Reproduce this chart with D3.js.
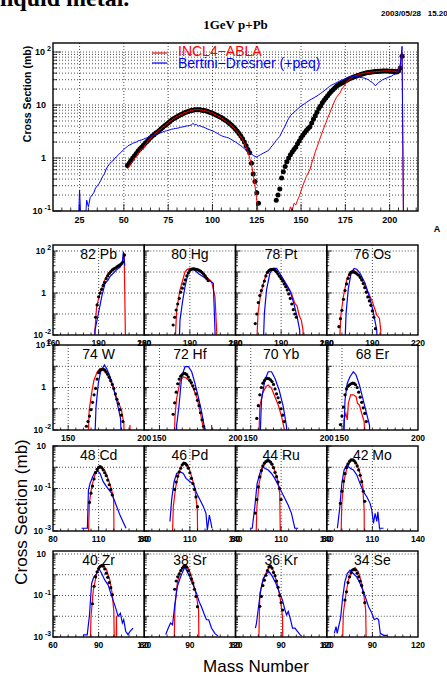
<!DOCTYPE html>
<html>
<head>
<meta charset="utf-8">
<script src="https://cdn.jsdelivr.net/npm/d3@7"></script>
<style>
body { margin: 0; background: #fff; }
svg { display: block; font-family: "Liberation Sans", Arial, sans-serif; }
</style>
</head>
<body>
<svg id="chart" width="447" height="677"></svg>
<script>
// ---- top panel: mass yield, 1 GeV p+Pb ----
// experiment: consecutive mass numbers starting at the given A
const topExpLeftFirst = 52;
const topExpLeft = [0.72,0.80,0.90,1.00,1.10,1.22,1.35,1.48,1.60,1.75,
  1.90,2.05,2.2,2.4,2.6,2.75,2.95,3.1,3.3,3.55,
  3.8,4.05,4.3,4.6,4.9,5.2,5.5,5.75,6.0,6.3,
  6.55,6.8,7.05,7.3,7.5,7.7,7.85,8.0,8.1,8.15,
  8.15,8.1,8.0,7.9,7.8,7.6,7.4,7.2,7.0,6.8,
  6.5,6.3,6.0,5.8,5.5,5.2,5.0,4.7,4.4,4.1,
  3.8,3.5,3.2,2.9,2.6,2.3,2.0,1.7,1.45,1.25,
  0.8,0.5,0.36,0.22,0.14];
const topExpRightFirst = 136;
const topExpRight = [0.16,0.2,0.26,0.42,0.55,0.69,0.85,1.0,1.15,1.3,
  1.45,1.6,1.85,2.1,2.4,2.7,3.0,3.3,3.6,3.9,
  4.6,5.4,6.3,7.3,8.6,9.6,11,12.3,13.6,15,
  16.5,18,19.5,21,22.5,23.8,25,26,27,28.5,
  29.8,31,32,33,34,35,36,37,38,39,
  39.8,40.5,41,41.5,42,42.5,43,43,43.5,43.5,
  44,44,44,44,43.5,43.5,43,43,42,44,
  50,83];
// INCL4-ABLA
const topRedLeftFirst = 52;
const topRedLeft = [0.62,0.7,0.8,0.85,1.0,1.05,1.25,1.3,1.5,1.45,
  1.8,1.9,2.2,2.3,2.6,2.7,3.0,3.1,3.4,3.5,
  3.9,4.0,4.4,4.5,5.0,5.1,5.6,5.7,6.1,6.2,
  6.7,6.7,7.2,7.2,7.6,7.6,8.0,7.9,8.3,8.1,
  8.3,8.0,8.1,7.8,7.9,7.5,7.5,7.1,7.1,6.6,
  6.6,6.1,6.1,5.6,5.5,5.1,4.9,4.6,4.3,4.0,
  3.7,3.4,3.1,2.8,2.5,2.2,1.9,1.6,1.3,1.0,
  0.75,0.5,0.3,0.16,0.08,0.03];
const topRedRightFirst = 142;
const topRedRight = [0.05,0.09,0.12,0.1,0.14,0.13,0.16,0.19,0.24,0.3,
  0.37,0.45,0.52,0.6,0.8,1.0,1.3,1.6,2.0,2.5,
  3.1,3.8,4.6,5.7,6.8,8.3,10,12,14,15.5,
  17,20,22,25,28,30,32,33.5,35,36,
  37,38,38.5,39.5,40,40.5,41,41.5,42,42,
  42.5,43,43,43.5,43.5,44,44,44,44,44,
  43.5,43.5,42,45,60,100,0.01];
// Bertini-Dresner (+peq)
const topBlueFirst = 24;
const topBlue = [0.03,0.25,0.04,0.03,0.05,0.16,0.12,0.18,0.2,0.22,
  0.27,0.3,0.33,0.38,0.45,0.5,0.62,0.7,0.78,0.85,
  0.9,1.0,1.07,1.15,1.25,1.35,1.45,1.55,1.65,1.75,
  1.8,1.9,1.95,2.0,2.1,2.15,2.2,2.25,2.35,2.4,
  2.5,2.55,2.65,2.7,2.8,2.9,2.95,3.0,3.1,3.2,
  3.25,3.35,3.4,3.5,3.55,3.6,3.65,3.7,3.8,3.85,
  3.9,4.0,4.05,4.1,4.2,4.5,4.2,4.3,4.0,4.1,
  3.9,3.8,3.7,3.55,3.45,3.35,3.25,3.15,3.0,2.9,
  2.75,2.65,2.55,2.5,2.45,2.4,2.3,2.2,2.1,2.0,
  1.9,1.8,1.7,1.6,1.5,1.43,1.35,1.28,1.2,1.12,
  1.07,1.05,1.1,1.15,1.2,1.25,1.3,1.35,1.43,1.6,
  1.75,1.95,2.15,2.35,2.56,3.0,3.5,4.0,4.8,5.6,
  6.3,6.8,7.3,7.8,8.4,9.0,9.6,10.1,10.6,11.2,
  11.8,12.4,13,13.6,14.2,14.8,15.6,16.5,17.5,18.5,
  19.7,21,22.4,23.5,24.5,25.5,26.5,27.5,28.5,29.5,
  30.5,31.5,32.5,33.5,34,34.5,35,34.9,34,33.5,
  33,32.5,32,31,30,28,27,25,23,25,
  27,28,30,31,32,33,34,35,37,38,
  40,43,55,128,0.01];
const topXTicks = [25,50,75,100,125,150,175,200];
const topYExps = [2,1,0,-1];

// ---- isotope panels: experiment [first A, values], models [[A, mb], ...] ----
const expPb = [188, [0.07,0.27,0.66,1.0,1.5,2.3,3.2,4.8,6.5,8.5,10.5,12.5,14,15.5,17.5,19.5,22,25,30,64]];
const redPb = [[185.5,1e-4],[188.6,0.19],[190,0.55],[191,1],[192,1.6],[193.5,3.5],[195,5.8],[196.3,8.7],[198,10.8],[199.6,12.6],[201,14.5],[203,17],[205,23],[206,40],[206.8,78],[208,1e-4]];
const bluePb = [[187.3,1e-4],[187.6,0.017],[189.8,0.1],[192,0.66],[194.2,2.9],[196.3,4.2],[197.4,6],[199.6,8.7],[201.8,12.6],[204,16.6],[205.5,25],[206.3,93],[207.2,20]];

const expHg = [179, [0.03,0.07,0.155,0.3,0.55,1.1,1.7,2.7,4.2,6.5,9,12,13.5,14,14,13.5,13,12,11,9.5,8,6.5,5,3.9]];
const redHg = [[179.3,1e-4],[181.3,0.155],[183.5,1.4],[186.8,10.2],[188,13],[190,15],[192,14.5],[194.3,12.6],[197,10],[199.9,7.2],[202,5],[204.3,3.5],[206.5,0.66],[207.6,0.017],[208,1e-4]];
const blueHg = [[182.2,1e-4],[183.5,0.05],[185,0.32],[186.8,2],[188.9,8.7],[190,12],[191.1,14.8],[192.5,13],[194.3,10.2],[196,8],[198.8,6],[202,4.2],[205.4,2.9],[206.5,0.017],[207,1e-4]];

const expPt = [173, [0.035,0.1,0.35,0.75,1.3,2.2,3.7,6.5,9.5,11.8,13,13.5,13.2,12,10.2,8,6.2,4.8,3.7,2.7,2.0,1.4,0.9,0.55,0.3,0.16,0.1,0.07]];
const redPt = [[173,1e-4],[174.8,0.107],[176.3,0.66],[178,2.4],[180.4,8.7],[182.6,13.5],[184.8,13.5],[188.1,7.2],[191.3,4.2],[194.6,1.66],[196.8,0.98],[199,0.32],[200.5,0.24],[201.8,0.089],[203.3,0.05],[204.4,0.017],[204.8,1e-4]];
const bluePt = [[177.5,1e-4],[179,0.107],[180.4,1.4],[182.6,8.7],[184.8,14.8],[187,14.8],[189.1,8.7],[192.4,3.5],[195.7,1.4],[198.3,0.32],[200.5,0.074],[202.2,0.017],[202.8,1e-4]];

const expOs = [168, [0.025,0.06,0.15,0.5,1.3,2.7,5,7.5,9.5,10.2,9.8,9,8,7,5.5,4.2,2.8,1.8,1.1,0.65,0.42,0.26,0.14,0.07,0.02]];
const redOs = [[167.4,1e-4],[169.2,0.074],[170.9,0.66],[173.1,4.2],[175.3,10.2],[177.5,12.6],[180.8,7.2],[184.1,2.9],[187.4,0.98],[189.6,0.47],[191.1,0.22],[192.9,0.089],[194.6,0.063],[195.5,0.017],[195.8,1e-4]];
const blueOs = [[171.2,1e-4],[172.7,0.107],[174.2,1.66],[176,8.7],[178,14.8],[179.7,13.5],[181.9,8.7],[185.2,2.9],[188.1,0.66],[190.3,0.155],[191.8,0.043],[192.9,0.017],[193.2,1e-4]];

const expW = [162, [0.015,0.025,0.045,0.09,0.2,0.45,0.9,2.5,5,6.5,7.2,7.2,6.7,5.5,4.2,3,2.1,1.4,0.9,0.5,0.28,0.17,0.09,0.05,0.025]];
const redW = [[162.3,1e-4],[163.8,0.087],[165.4,0.54],[166.9,2.2],[169.1,5.5],[170.9,7.9],[173,6.8],[175.7,3.9],[178.5,1.6],[180.7,0.54],[182.9,0.21],[185,0.087],[186.6,0.02],[187.2,1e-4],[190,1e-4],[190.6,0.017],[191.2,1e-4]];
const blueW = [[166.7,1e-4],[168.3,0.126],[169.8,1.6],[171.3,5.5],[173.8,11.5],[175.3,7.9],[177.5,3.2],[179.6,1.1],[182.3,0.18],[184.4,0.035],[185.7,1e-4]];

const expHf = [159, [0.055,0.19,0.6,1.5,2.5,3.4,4.1,4.6,4.5,4.0,3.1,2.2,1.7,1.2,0.85,0.5,0.25,0.14,0.065,0.03,0.015]];
const redHf = [[159.3,1e-4],[160.2,0.043],[161.3,0.31],[163.5,1.86],[165.7,3.2],[167.9,2.7],[170,1.86],[172.2,0.91],[174.8,0.31],[177,0.06],[178.8,0.012],[179.2,1e-4],[183.8,1e-4],[184.3,0.017],[184.8,1e-4]];
const blueHf = [[160.8,1e-4],[161.3,0.017],[162.8,0.126],[164.6,3.2],[166.8,9.5],[169,9.5],[171.2,5.5],[173.3,1.6],[175.5,0.37],[177.7,0.072],[179.9,0.01],[180.2,1e-4]];

const expYb = [154, [0.035,0.14,0.45,1.0,1.6,2.1,2.6,2.7,2.6,2.3,1.9,1.4,0.85,0.5,0.33,0.2,0.1,0.05,0.025]];
const redYb = [[154.7,1e-4],[156,0.126],[157.8,0.54],[160,1.1],[161.5,1.3],[163.7,0.91],[165.9,0.37],[168.1,0.15],[170.3,0.043],[172.5,0.008],[172.8,1e-4]];
const blueYb = [[155.3,1e-4],[157.1,0.26],[159.3,2.2],[161.5,5.5],[163.7,5.5],[165.9,2.7],[168.7,0.76],[171.4,0.126],[173.6,0.014],[174,1e-4]];

const expEr = [149, [0.018,0.045,0.12,0.45,0.85,1.15,1.35,1.5,1.6,1.55,1.35,1.0,0.6,0.35,0.2,0.11,0.06,0.025]];
const redEr = [[149.5,1e-4],[151.3,0.03],[152.6,0.06],[153.5,0.03],[154.2,0.18],[155.7,0.45],[157.5,0.45],[159.3,0.37],[160.2,0.18],[161.5,0.15],[163,0.06],[164.6,0.025],[165.5,1e-4]];
const blueEr = [[150.6,1e-4],[152,0.26],[153.5,1.6],[155.3,3.2],[157.5,5.5],[159.3,3.9],[161.5,1.3],[163.7,0.31],[165.9,0.072],[168.1,0.017],[168.8,1e-4]];

const expCd = [104, [0.022,0.06,0.13,0.28,0.55,0.8,0.98,1.07,0.95,0.75,0.55,0.4,0.25,0.15,0.09,0.05]];
const redCd = [[102.6,1e-5],[103.9,0.02],[105.4,0.12],[107.6,0.44],[109.8,0.89],[111.9,1.07],[114.1,0.69],[116.9,0.21],[119.1,0.059],[119.9,0.028],[120.3,1e-5]];
const blueCd = [[98.8,0.00135],[102.6,0.00135],[103.3,0.085],[104.3,0.17],[106.1,0.36],[107.6,0.63],[109.8,0.63],[110.9,0.52],[113,0.21],[115.3,0.12],[118.6,0.059],[120.7,0.024],[124,0.0056],[128,0.00135]];

const expPd = [100, [0.09,0.2,0.38,0.6,0.9,1.3,1.55,1.5,1.25,0.9,0.55,0.3,0.17,0.09,0.04,0.014]];
const redPd = [[97.8,1e-5],[99.1,0.014],[100.7,0.12],[102.4,0.44],[104.6,1.29],[106.8,1.66],[109,1.07],[111.2,0.36],[113.4,0.085],[114.9,0.0098],[115.4,1e-5]];
const bluePd = [[96.9,0.0028],[98,0.029],[99.6,0.21],[101.3,0.51],[103.5,0.62],[105.7,0.51],[107.5,0.3],[110.1,0.21],[112.3,0.17],[114.5,0.059],[116.7,0.029],[118.9,0.014],[120.6,0.0068],[121.5,0.0011],[122.8,0.0056],[123.7,0.0028],[124.5,0.00135]];

const expRu = [93, [0.007,0.03,0.12,0.35,0.7,1.15,1.55,1.85,2.0,2.0,1.75,1.4,0.95,0.58,0.36,0.2,0.1,0.03]];
const redRu = [[92.8,1e-5],[94.1,0.014],[95.5,0.17],[97.7,0.89],[100.4,2.2],[102.6,2.04],[105.2,0.89],[107.4,0.3],[109.1,0.059],[109.8,1e-5]];
const blueRu = [[89.4,0.00135],[91,0.00135],[92.7,0.014],[94.2,0.17],[96,0.51],[97.7,1.07],[99.2,0.89],[101.5,0.74],[103.7,0.51],[105.8,0.3],[108.7,0.12],[111.3,0.049],[114.6,0.0166],[116.8,0.0068],[119,0.00135],[121.2,0.00135]];

const expMo = [89, [0.02,0.075,0.22,0.5,0.95,1.45,1.9,2.2,2.2,2.0,1.6,1.15,0.75,0.42,0.21,0.075,0.025]];
const redMo = [[88.8,1e-5],[89.9,0.02],[91.4,0.25],[93.2,0.89],[95.8,2.2],[97.5,2.4],[99.7,1.55],[101.9,0.51],[103.7,0.12],[104.6,0.0098],[104.8,1e-5]];
const blueMo = [[87,0.00135],[88.4,0.0098],[89.9,0.17],[91.4,0.74],[93.2,1.29],[95.4,0.89],[97.5,0.74],[99.7,0.44],[101.9,0.17],[104.1,0.071],[106.3,0.041],[108.5,0.02],[109.6,0.0098],[110.7,0.0023],[111.8,0.0068],[112.9,0.0028],[113.6,0.0081],[114.7,0.00135],[117.3,0.00135]];

const expZr = [86, [0.04,0.28,0.8,1.4,2.0,2.5,2.8,2.6,1.9,1.2,0.75,0.42,0.24,0.11]];
const redZr = [[83.9,1e-5],[85,0.0098],[86.5,0.18],[88.7,1.15],[90.9,2.8],[93,3.1],[95.2,1.8],[97.4,0.55],[98.9,0.126],[100,0.017],[100.6,1e-5],[101.3,1e-5],[101.7,0.01],[102.1,1e-5]];
const blueZr = [[79.9,0.00126],[82.5,0.00126],[83.9,0.0098],[85.4,0.38],[86.9,0.79],[88.7,1.15],[90.2,2.0],[92,1.15],[94.1,0.55],[96.3,0.32],[98,0.126],[99.5,0.06],[101.3,0.024],[102.8,0.0098],[104.3,0.014],[105.6,0.0047],[106.5,0.0068],[107.8,0.0019],[109.3,0.0013],[110.8,0.0019],[112.6,0.0027]];

const expSr = [80, [0.2,0.5,0.8,1.1,1.6,2.1,2.5,2.55,2.3,1.6,1.0,0.62,0.4,0.2,0.09,0.029]];
const redSr = [[79.1,1e-5],[80.2,0.029],[81.7,0.38],[83.5,1.38],[85.7,2.8],[87.5,3.1],[89.6,1.66],[91.8,0.55],[94.4,0.087],[95.7,0.02],[96.2,1e-5]];
const blueSr = [[74.1,0.0013],[75.8,0.0027],[77.3,0.0047],[78.6,0.0039],[80.2,0.042],[81.7,0.26],[83.5,0.66],[85.2,1.38],[86.8,2.4],[88.3,1.38],[90,0.79],[92.2,0.32],[94.4,0.126],[96.1,0.05],[97.6,0.029],[99.2,0.014],[100.9,0.0068],[102.4,0.0068],[104.2,0.0027],[106.4,0.0015],[108.5,0.0011]];

const expKr = [76, [0.03,0.09,0.3,0.55,0.95,1.6,2.4,2.6,2.1,1.3,0.9,0.5,0.25,0.1,0.045,0.02]];
const redKr = [[74.8,1e-5],[76,0.126],[78.2,0.55],[80.4,1.38],[82.6,2.8],[84.8,1.66],[87.4,0.38],[89.6,0.06],[90.9,0.0098],[91.3,1e-5]];
const blueKr = [[73.1,0.0027],[73.8,0.0047],[75.3,0.035],[76.6,0.18],[78.2,0.66],[80.4,1.15],[82.2,1.38],[84.4,0.79],[86.6,0.38],[88.7,0.15],[90.9,0.06],[92.5,0.02],[93.6,0.0117],[94.7,0.017],[96.2,0.0068],[97.5,0.0027],[99.1,0.0027],[100.6,0.0019],[102.4,0.0013],[103.5,0.0011]];

const expSe = [72, [0.06,0.15,0.42,0.8,1.25,1.7,1.85,1.7,1.2,0.8,0.5,0.3,0.14,0.045]];
const redSe = [[69.8,1e-5],[70.9,0.014],[72.7,0.126],[74.2,0.55],[76.4,1.66],[78.6,2.24],[80.8,1.38],[83,0.38],[84.5,0.087],[85.6,0.02],[86.3,1e-5]];
const blueSe = [[65,0.0015],[66.1,0.0032],[66.9,0.0015],[67.8,0.0032],[69.1,0.0081],[70.4,0.072],[71.9,0.46],[73.5,1.15],[75.3,1.66],[77.5,1.15],[79.7,0.79],[81.9,0.38],[83.7,0.18],[85.3,0.087],[87.5,0.029],[89.7,0.014],[91.2,0.0068],[93,0.0081],[94.1,0.0068],[95.2,0.0015],[97.4,0.0012],[99.6,0.0012]];

const panelLabels = ["82 Pb","80 Hg","78 Pt","76 Os","74 W","72 Hf","70 Yb","68 Er",
                     "48 Cd","46 Pd","44 Ru","42 Mo","40 Zr","38 Sr","36 Kr","34 Se"];
const panelExp  = [expPb,expHg,expPt,expOs,expW,expHf,expYb,expEr,expCd,expPd,expRu,expMo,expZr,expSr,expKr,expSe];
const panelRed  = [redPb,redHg,redPt,redOs,redW,redHf,redYb,redEr,redCd,redPd,redRu,redMo,redZr,redSr,redKr,redSe];
const panelBlue = [bluePb,blueHg,bluePt,blueOs,blueW,blueHf,blueYb,blueEr,blueCd,bluePd,blueRu,blueMo,blueZr,blueSr,blueKr,blueSe];

// axis ranges per row of small panels
const rowXDomain = [[160,220],[140,200],[80,140],[60,120]];
const rowXTicks  = [[160,190,220],[150,200],[80,110,140],[60,90,120]];
const rowXGrid   = [[190],[150],[110],[90]];
const rowYDomain = [[0.01,193],[0.01,100],[0.001,10],[0.001,14]];
const rowYExps   = [[2,0,-2],[2,0,-2],[1,-1,-3],[1,-1,-3]];

// layout
const colX = [53, 144.25, 235.5, 326.75, 418];
const rowTop = [245, 345, 446, 551];
const rowBottom = [335, 430, 531, 637];

const svg = d3.select("#chart");
const defs = svg.append("defs");
const RED = "#ff0000", BLUE = "#0000ff";

function series(first, vals) { return vals.map((v, i) => [first + i, v]); }

function yLabel(g, x, y, e, size) {
  const t = g.append("text")
    .attr("y", y).attr("dy", "0.35em")
    .attr("text-anchor", "end")
    .attr("font-weight", "bold")
    .attr("font-size", size);
  if (e === 0) t.attr("x", x - 5).text("1");
  else if (e === 1) t.attr("x", x - 5).text("10");
  else {
    t.attr("x", x).text("10");
    t.append("tspan").attr("dx", 2).attr("dy", -size * 0.45)
      .attr("font-size", size * 0.8).text(e);
  }
}

function logTicks(g, ys, x0, lo, hi, major, minor) {
  for (let e = -6; e <= 3; e++) {
    for (let k = 1; k <= 9; k++) {
      const v = k * Math.pow(10, e);
      if (v < lo * 0.999 || v > hi * 1.001) continue;
      g.append("line")
        .attr("x1", x0).attr("x2", x0 + (k === 1 ? major : minor))
        .attr("y1", ys(v)).attr("y2", ys(v))
        .attr("stroke", "#000").attr("stroke-width", 0.8);
    }
  }
}

function dotted(g, x1, y1, x2, y2) {
  g.append("line").attr("x1", x1).attr("y1", y1).attr("x2", x2).attr("y2", y2)
    .attr("stroke", "#000").attr("stroke-width", 0.7).attr("stroke-dasharray", "1,2");
}

// ---------- header texts ----------
svg.append("text").attr("x", 0).attr("y", 6)
  .attr("font-family", "'Liberation Serif', 'Times New Roman', serif")
  .attr("font-weight", "bold").attr("font-size", 24)
  .text("liquid metal.");

svg.append("text").attr("x", 381).attr("y", 16)
  .attr("font-weight", "bold").attr("font-size", 8)
  .attr("xml:space", "preserve")
  .text("2003/05/28   15.20");

svg.append("text").attr("x", 235.5).attr("y", 29)
  .attr("text-anchor", "middle")
  .attr("font-family", "'Liberation Serif', 'Times New Roman', serif")
  .attr("font-weight", "bold").attr("font-size", 13)
  .text("1GeV p+Pb");

// ---------- top panel ----------
const tx = d3.scaleLinear().domain([10, 216]).range([53, 418]);
const ty = d3.scaleLog().domain([0.1, 148]).range([211, 43]);
const topG = svg.append("g");

defs.append("clipPath").attr("id", "clipTop")
  .append("rect").attr("x", 53).attr("y", 43).attr("width", 365).attr("height", 168);

// grid
for (let e = -1; e <= 2; e++) {
  for (let k = 1; k <= 9; k++) {
    const v = k * Math.pow(10, e);
    if (v <= 0.1 || v >= 148) continue;
    dotted(topG, 53, ty(v), 418, ty(v));
  }
}
topXTicks.forEach(a => dotted(topG, tx(a), 43, tx(a), 211));

const topPlot = topG.append("g").attr("clip-path", "url(#clipTop)");
const tline = d3.line().x(d => tx(d[0])).y(d => ty(d[1]));

topPlot.selectAll("circle")
  .data(series(topExpLeftFirst, topExpLeft).concat(series(topExpRightFirst, topExpRight)))
  .enter().append("circle")
    .attr("cx", d => tx(d[0])).attr("cy", d => ty(d[1])).attr("r", 2.5)
    .attr("fill", "#000");

[series(topRedLeftFirst, topRedLeft), series(topRedRightFirst, topRedRight)].forEach(s => {
  topPlot.append("path").datum(s).attr("d", tline)
    .attr("fill", "none").attr("stroke", RED).attr("stroke-width", 1);
});
topPlot.append("path").datum(series(topBlueFirst, topBlue)).attr("d", tline)
  .attr("fill", "none").attr("stroke", BLUE).attr("stroke-width", 1);

// ticks
logTicks(topG, ty, 53, 0.1, 148, 8, 4);
for (let a = 15; a <= 215; a += 5) {
  topG.append("line").attr("x1", tx(a)).attr("x2", tx(a))
    .attr("y1", 211).attr("y2", 211 - (a % 25 === 0 ? 7 : 3.5))
    .attr("stroke", "#000").attr("stroke-width", 0.8);
}
topG.append("rect").attr("x", 53).attr("y", 43).attr("width", 365).attr("height", 168)
  .attr("fill", "none").attr("stroke", "#000").attr("stroke-width", 1.4);

topXTicks.forEach(a => {
  topG.append("text").attr("x", tx(a)).attr("y", 223)
    .attr("text-anchor", "middle").attr("font-weight", "bold").attr("font-size", 9)
    .text(a);
});
topYExps.forEach(e => yLabel(topG, 51, ty(Math.pow(10, e)), e, 9));
topG.append("text").attr("x", 437).attr("y", 232)
  .attr("text-anchor", "middle").attr("font-weight", "bold").attr("font-size", 9).text("A");
topG.append("text")
  .attr("transform", "translate(31,94) rotate(-90)")
  .attr("text-anchor", "middle").attr("font-weight", "bold").attr("font-size", 10.5)
  .text("Cross Section (mb)");

// legend
topG.append("line").attr("x1", 152).attr("x2", 167).attr("y1", 53).attr("y2", 53)
  .attr("stroke", RED).attr("stroke-width", 1.2);
topG.append("text").attr("x", 178).attr("y", 55.5).attr("font-size", 14)
  .attr("fill", RED).text("INCL4\u2212ABLA");
topG.append("line").attr("x1", 152).attr("x2", 167).attr("y1", 63).attr("y2", 63)
  .attr("stroke", BLUE).attr("stroke-width", 1.2);
topG.append("text").attr("x", 178).attr("y", 67.5).attr("font-size", 14)
  .attr("fill", BLUE).text("Bertini\u2212Dresner (+peq)");

// ---------- isotope panels ----------
panelLabels.forEach((label, i) => {
  const r = Math.floor(i / 4), c = i % 4;
  const x0 = colX[c], x1 = colX[c + 1], y0 = rowTop[r], y1 = rowBottom[r];
  const xs = d3.scaleLinear().domain(rowXDomain[r]).range([x0, x1]);
  const ys = d3.scaleLog().domain(rowYDomain[r]).range([y1, y0]);
  const g = svg.append("g");
  const id = "clipP" + i;
  defs.append("clipPath").attr("id", id)
    .append("rect").attr("x", x0).attr("y", y0).attr("width", x1 - x0).attr("height", y1 - y0);

  // grid
  const [lo, hi] = rowYDomain[r];
  for (let e = -4; e <= 3; e++) {
    const v = Math.pow(10, e);
    if (v <= lo * 1.001 || v >= hi * 0.999) continue;
    dotted(g, x0, ys(v), x1, ys(v));
  }
  rowXGrid[r].forEach(a => dotted(g, xs(a), y0, xs(a), y1));

  const plot = g.append("g").attr("clip-path", "url(#" + id + ")");
  const line = d3.line().x(d => xs(d[0])).y(d => ys(d[1]));
  plot.append("path").datum(panelRed[i]).attr("d", line)
    .attr("fill", "none").attr("stroke", RED).attr("stroke-width", 1.2);
  plot.append("path").datum(panelBlue[i]).attr("d", line)
    .attr("fill", "none").attr("stroke", BLUE).attr("stroke-width", 1.2);
  const ex = panelExp[i];
  plot.selectAll("circle").data(series(ex[0], ex[1])).enter().append("circle")
    .attr("cx", d => xs(d[0])).attr("cy", d => ys(d[1])).attr("r", 1.6)
    .attr("fill", "#000");

  // ticks
  logTicks(g, ys, x0, lo, hi, 5, 2.5);
  const [a0, a1] = rowXDomain[r];
  for (let a = a0 + 5; a < a1; a += 5) {
    g.append("line").attr("x1", xs(a)).attr("x2", xs(a))
      .attr("y1", y1).attr("y2", y1 - (rowXTicks[r].includes(a) ? 5 : 2.5))
      .attr("stroke", "#000").attr("stroke-width", 0.8);
  }
  g.append("rect").attr("x", x0).attr("y", y0).attr("width", x1 - x0).attr("height", y1 - y0)
    .attr("fill", "none").attr("stroke", "#000").attr("stroke-width", 1.4);

  rowXTicks[r].forEach(a => {
    g.append("text").attr("x", xs(a)).attr("y", y1 + 11)
      .attr("text-anchor", "middle").attr("font-weight", "bold").attr("font-size", 8.5)
      .text(a);
  });
  if (c === 0) rowYExps[r].forEach(e => yLabel(g, 51, ys(Math.pow(10, e)), e, 8.5));

  g.append("text").attr("x", (x0 + x1) / 2).attr("y", y0 + 13.5)
    .attr("text-anchor", "middle").attr("font-size", 14)
    .text(label);
});

svg.append("text")
  .attr("transform", "translate(27,512) rotate(-90)")
  .attr("text-anchor", "middle").attr("font-size", 17)
  .text("Cross Section (mb)");
svg.append("text").attr("x", 256).attr("y", 672)
  .attr("text-anchor", "middle").attr("font-size", 17)
  .text("Mass Number");
</script>
</body>
</html>
